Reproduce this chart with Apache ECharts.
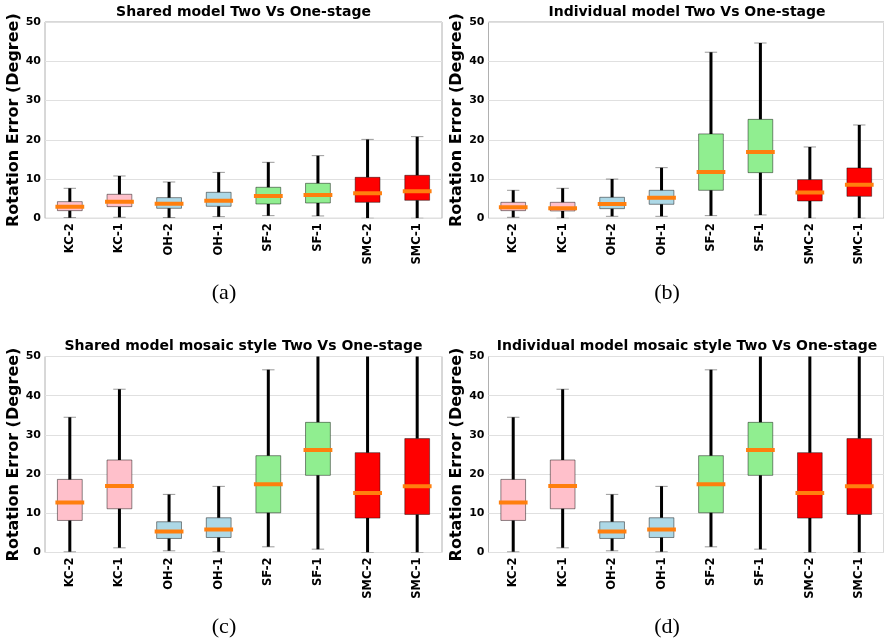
<!DOCTYPE html>
<html>
<head>
<meta charset="utf-8">
<script src="https://cdn.jsdelivr.net/npm/echarts@6/dist/echarts.min.js"></script>
<style>
html,body{margin:0;padding:0;background:#fff;}
#chart{width:884px;height:640px;}
</style>
</head>
<body>
<div id="chart"></div>
<script>
// ---- data ----
const categories = ['KC-2','KC-1','OH-2','OH-1','SF-2','SF-1','SMC-2','SMC-1'];
const boxColors = ['#ffc0cb','#ffc0cb','#add8e6','#add8e6','#90ee90','#90ee90','#ff0000','#ff0000'];
const yTicks = [0,10,20,30,40,50];
const panelTitles = [
  'Shared model Two Vs One-stage',
  'Individual model Two Vs One-stage',
  'Shared model mosaic style Two Vs One-stage',
  'Individual model mosaic style Two Vs One-stage'
];
const panelCaptions = ['(a)','(b)','(c)','(d)'];
// each entry: [min, Q1, median, Q3, max]
const sharedStats = [
  [0.17,1.95,2.97,4.24,7.64],
  [0.25,2.97,4.24,6.11,10.78],
  [0.17,2.55,3.73,5.26,9.25],
  [0.42,3.06,4.5,6.62,11.7],
  [0.68,3.65,5.69,7.9,14.26],
  [0.6,3.9,5.94,8.91,15.96],
  [0,4.07,6.37,10.44,20.1],
  [0,4.58,6.88,10.95,20.8]
];
const individualStats = [
  [0.25,1.95,2.8,4.07,7.13],
  [0,1.87,2.55,4.07,7.64],
  [0.5,2.46,3.65,5.35,10.0],
  [0.5,3.57,5.26,7.13,12.9],
  [0.68,7.13,11.8,21.5,42.3],
  [0.85,11.63,16.9,25.2,44.65],
  [0,4.41,6.54,9.85,18.17],
  [0,5.6,8.57,12.82,23.77]
];
const sharedMosaicStats = [
  [0.17,8.18,12.78,18.65,34.5],
  [1.19,11.16,16.95,23.6,41.65],
  [0.43,3.58,5.37,7.84,14.82],
  [0.17,3.83,5.88,8.86,16.87],
  [1.45,10.14,17.38,24.7,46.6],
  [0.85,19.68,26.15,33.2,58],
  [0,8.77,15.16,25.47,60],
  [0,9.71,16.87,29.05,62]
];
const individualMosaicStats = [
  [0.17,8.18,12.78,18.65,34.5],
  [1.19,11.16,16.95,23.6,41.65],
  [0.43,3.58,5.37,7.84,14.82],
  [0.17,3.83,5.88,8.86,16.87],
  [1.45,10.14,17.38,24.7,46.6],
  [0.85,19.68,26.15,33.2,58],
  [0,8.77,15.16,25.47,60],
  [0,9.71,16.87,29.05,62]
];
const panelStats = [sharedStats, individualStats, sharedMosaicStats, individualMosaicStats];

// ---- layout ----
const FONT = 'DejaVu Sans';
const grids = [
  {left:45, top:22, width:397, height:196.3},
  {left:488.5, top:22, width:397, height:196.3},
  {left:45, top:356.5, width:397, height:196},
  {left:488.5, top:356.5, width:397, height:196}
];
const titlePos = [
  {x:243.5, y:5.5},{x:687, y:5.5},{x:243.5, y:339.5},{x:687, y:339.5}
];
const captionPos = [
  {x:224, y:293},{x:667, y:293},{x:224, y:627},{x:667, y:627}
];

function renderBox(params, api){
  const i = api.value(0);
  const mn = api.coord([i, api.value(1)]);
  const q1 = api.coord([i, api.value(2)]);
  const md = api.coord([i, api.value(3)]);
  const q3 = api.coord([i, api.value(4)]);
  const mx = api.coord([i, api.value(5)]);
  const band = api.size([1,0])[0];
  const bw = band*0.5, cw = band*0.25;
  const cx = mn[0];
  return {
    type:'group',
    children:[
      {type:'rect', shape:{x:cx-bw/2, y:q3[1], width:bw, height:q1[1]-q3[1]},
       style:{fill:boxColors[i], stroke:'rgba(0,0,0,0.45)', lineWidth:1}},
      {type:'line', shape:{x1:cx, y1:q3[1], x2:cx, y2:mx[1]},
       style:{stroke:'#000', lineWidth:3}},
      {type:'line', shape:{x1:cx, y1:q1[1], x2:cx, y2:mn[1]},
       style:{stroke:'#000', lineWidth:3}},
      {type:'line', shape:{x1:cx-cw/2, y1:mx[1], x2:cx+cw/2, y2:mx[1]},
       style:{stroke:'rgba(0,0,0,0.4)', lineWidth:1}},
      {type:'line', shape:{x1:cx-cw/2, y1:mn[1], x2:cx+cw/2, y2:mn[1]},
       style:{stroke:'rgba(0,0,0,0.4)', lineWidth:1}},
      {type:'line', shape:{x1:cx-bw/2, y1:md[1], x2:cx+bw/2, y2:md[1]},
       style:{stroke:'#ff7f0e', lineWidth:4, lineCap:'square'}}
    ]
  };
}

const option = {
  backgroundColor:'#fff',
  animation:false,
  title: panelTitles.map((t,k)=>({
    text:t, left:titlePos[k].x, top:titlePos[k].y, textAlign:'center', padding:0,
    textStyle:{fontFamily:FONT, fontWeight:'bold', fontSize:14, color:'#000'}
  })),
  grid: grids.map(g=>Object.assign({show:true, borderColor:'#b0b0b0', borderWidth:1, backgroundColor:'#fff', containLabel:false}, g)),
  xAxis: grids.map((g,k)=>({
    type:'category', gridIndex:k, data:categories, boundaryGap:true,
    axisLine:{show:false}, axisTick:{show:false},
    axisLabel:{rotate:90, margin:5, fontFamily:FONT, fontWeight:'bold', fontSize:11.5, color:'#000', interval:0}
  })),
  yAxis: grids.map((g,k)=>({
    type:'value', gridIndex:k, min:yTicks[0], max:yTicks[yTicks.length-1], interval:10,
    axisLine:{show:false}, axisTick:{show:false},
    splitLine:{show:true, lineStyle:{color:'#e0e0e0', width:1}},
    axisLabel:{margin:4, fontFamily:FONT, fontWeight:'bold', fontSize:11, color:'#000'},
    name:'Rotation Error (Degree)', nameLocation:'middle', nameRotate:90, nameGap:21,
    nameTextStyle:{fontFamily:FONT, fontWeight:'bold', fontSize:16, color:'#000', verticalAlign:'bottom'}
  })),
  series: panelStats.map((stats,k)=>({
    type:'custom', xAxisIndex:k, yAxisIndex:k, clip:true,
    renderItem: renderBox,
    encode:{x:0, y:[1,2,3,4,5]},
    data: stats.map((s,i)=>[i].concat(s))
  })),
  graphic: panelCaptions.map((c,k)=>({
    type:'text', x:captionPos[k].x, y:captionPos[k].y,
    style:{text:c, font:'22px "Liberation Serif"', fill:'#000', textAlign:'center', textVerticalAlign:'middle'}
  }))
};

const chart = echarts.init(document.getElementById('chart'), null, {renderer:'canvas'});
chart.setOption(option);
</script>
</body>
</html>
